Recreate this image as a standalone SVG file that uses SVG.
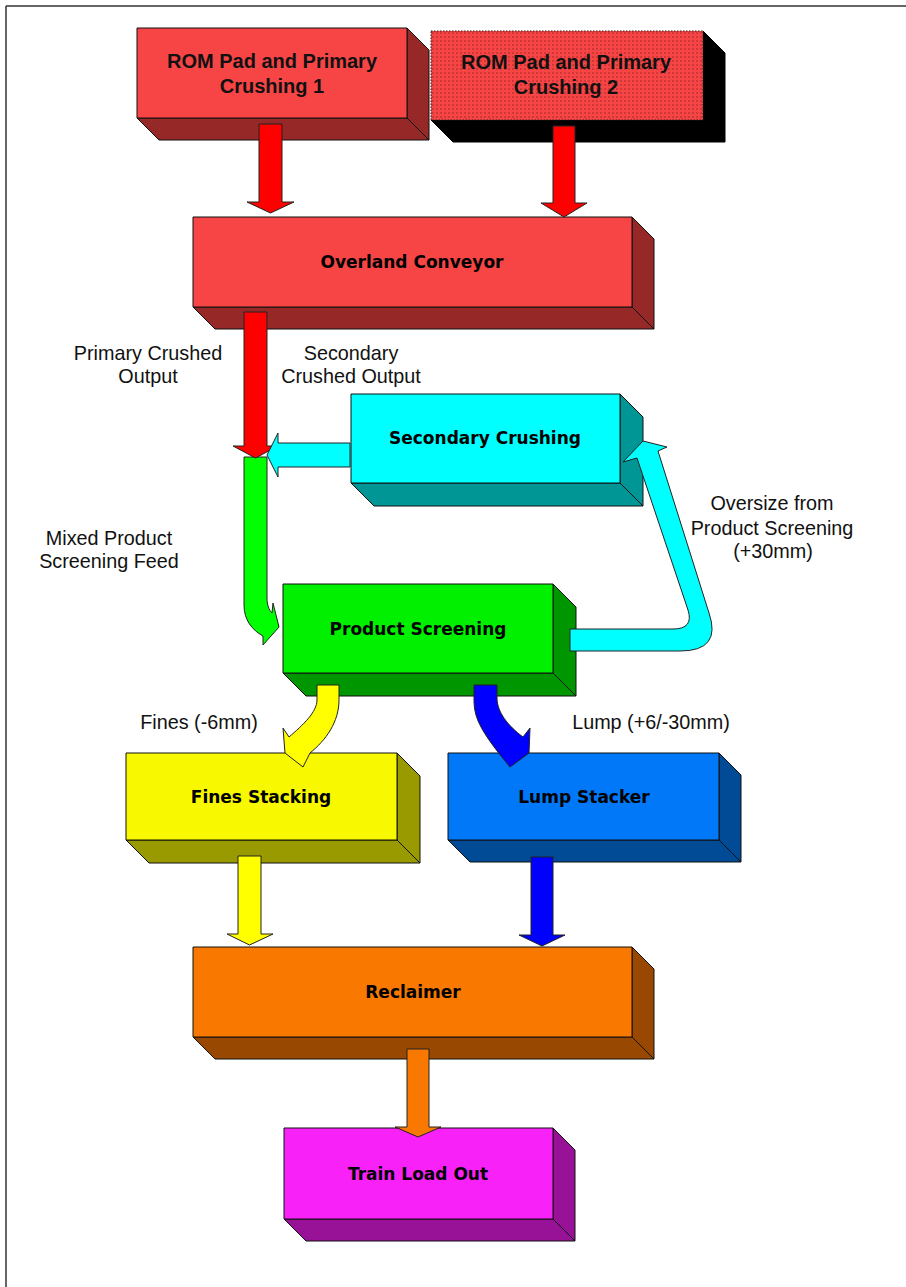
<svg xmlns="http://www.w3.org/2000/svg" width="906" height="1287" viewBox="0 0 906 1287">
<defs>
  <pattern id="dots" width="4" height="4" patternUnits="userSpaceOnUse">
    <rect width="4" height="4" fill="#F74545"/>
    <circle cx="1" cy="1" r="0.7" fill="#8a2020"/>
  </pattern>
  <style>
    .face{stroke:#111;stroke-width:1;stroke-linejoin:round}
    .arr{stroke:#222;stroke-width:1;stroke-linejoin:miter}
    .nl{font-family:"DejaVu Sans",sans-serif;font-weight:bold;font-size:17px;fill:#000;text-anchor:middle}
    .rl{font-family:"Liberation Sans",Arial,sans-serif;font-weight:bold;font-size:20px;fill:#111;text-anchor:middle}
    .el{font-family:"Liberation Sans",Arial,sans-serif;font-size:19.8px;fill:#111;text-anchor:middle}
  </style>
</defs>
<rect width="906" height="1287" fill="#fff"/>
<g id="page-border" stroke="#333" stroke-width="1.5" fill="none">
  <line x1="6" y1="6" x2="906" y2="6"/>
  <line x1="6" y1="6" x2="6" y2="1287"/>
</g>

<g id="rom1">
  <polygon class="face" fill="#962828" points="137,118 407,118 429,140 159,140"/>
  <polygon class="face" fill="#962828" points="407,28 429,50 429,140 407,118"/>
  <rect class="face" x="137" y="28" width="270" height="90" fill="#F74545"/>
  <text class="rl" x="272" y="68">ROM Pad and Primary</text>
  <text class="rl" x="272" y="93">Crushing 1</text>
</g>
<g id="rom2">
  <polygon fill="#000" stroke="#000" points="431,120 703,120 725,142 453,142"/>
  <polygon fill="#000" stroke="#000" points="703,31 725,53 725,142 703,120"/>
  <rect x="431" y="31" width="272" height="89" fill="url(#dots)" stroke="#222" stroke-width="1" stroke-dasharray="1.5 1.5"/>
  <text class="rl" x="566" y="69">ROM Pad and Primary</text>
  <text class="rl" x="566" y="94">Crushing 2</text>
</g>
<g id="overland">
  <polygon class="face" fill="#962828" points="193,307 632,307 654,329 215,329"/>
  <polygon class="face" fill="#962828" points="632,217 654,239 654,329 632,307"/>
  <rect class="face" x="193" y="217" width="439" height="90" fill="#F74545"/>
  <text class="nl" x="412" y="268">Overland Conveyor</text>
</g>
<g id="secondary">
  <polygon class="face" fill="#009696" points="351,483 620,483 643,506 374,506"/>
  <polygon class="face" fill="#009696" points="620,394 643,417 643,506 620,483"/>
  <rect class="face" x="351" y="394" width="269" height="89" fill="#00FFFF"/>
  <text class="nl" x="485" y="444">Secondary Crushing</text>
</g>
<g id="product">
  <polygon class="face" fill="#009600" points="283,673 553,673 576,696 306,696"/>
  <polygon class="face" fill="#009600" points="553,584 576,607 576,696 553,673"/>
  <rect class="face" x="283" y="584" width="270" height="89" fill="#00F000"/>
  <text class="nl" x="418" y="635">Product Screening</text>
</g>
<g id="fines">
  <polygon class="face" fill="#999900" points="126,840 397,840 420,863 149,863"/>
  <polygon class="face" fill="#999900" points="397,753 420,776 420,863 397,840"/>
  <rect class="face" x="126" y="753" width="271" height="87" fill="#F8F800"/>
  <text class="nl" x="261" y="803">Fines Stacking</text>
</g>
<g id="lump">
  <polygon class="face" fill="#004A96" points="448,840 719,840 741,862 470,862"/>
  <polygon class="face" fill="#004A96" points="719,753 741,775 741,862 719,840"/>
  <rect class="face" x="448" y="753" width="271" height="87" fill="#0078F8"/>
  <text class="nl" x="584" y="803">Lump Stacker</text>
</g>
<g id="reclaimer">
  <polygon class="face" fill="#984800" points="193,1037 632,1037 654,1059 215,1059"/>
  <polygon class="face" fill="#984800" points="632,947 654,969 654,1059 632,1037"/>
  <rect class="face" x="193" y="947" width="439" height="90" fill="#F87800"/>
  <text class="nl" x="413" y="998">Reclaimer</text>
</g>
<g id="train">
  <polygon class="face" fill="#981298" points="284,1219 553,1219 575,1241 306,1241"/>
  <polygon class="face" fill="#981298" points="553,1128 575,1150 575,1241 553,1219"/>
  <rect class="face" x="284" y="1128" width="269" height="91" fill="#F822F8"/>
  <text class="nl" x="418" y="1180">Train Load Out</text>
</g>

<g id="connectors">
  <polygon class="arr" fill="#FF0000" points="259,124 282,124 282,202 294,202 270.5,213 247,202 259,202"/>
  <polygon class="arr" fill="#FF0000" points="553,126 575,126 575,203 587,203 564,217 541,203 553,203"/>
  <path class="arr" fill="#00FF00" d="M244,457 L267,457 L267,598 C267,605 269,610 272,613 L273,603 L279,627 L263,645 L263,636 C252,630 244,620 244,605 Z"/>
  <polygon class="arr" fill="#FF0000" points="244,312 267,312 267,446 278,446 255.5,458 233,446 244,446"/>
  <polygon class="arr" fill="#00FFFF" points="350,443 278,443 278,433 267,455 278,477 278,467 350,467"/>
  <path class="arr" fill="#00FFFF" d="M570,629 L673,629 Q694,629 688,610 L637,458 L623,462 L643,441 L667,447 L658,451 L709,613 Q722,651 680,651 L570,651 Z"/>
  <path class="arr" fill="#FFFF00" d="M317,685 L339,685 L339,700 C339,722 326,740 310,753 L303,767 L285,753 L283,728 L289,737 C303,725 317,712 317,700 Z"/>
  <path class="arr" fill="#0000FF" d="M474,685 L497,685 L497,698 C497,712 508,726 523,737 L530,728 L529,753 L510,767 C496,750 480,730 476,715 C474,708 474,703 474,698 Z"/>
  <polygon class="arr" fill="#FFFF00" points="238,856 261,856 261,934 273,934 249.5,945 227,934 238,934"/>
  <polygon class="arr" fill="#0000FF" points="531,857 553,857 553,935 565,935 542,946 519,935 531,935"/>
  <polygon class="arr" fill="#F87800" points="407,1049 429,1049 429,1127 441,1127 418,1137 395,1127 407,1127"/>
</g>

<g id="edge-labels">
  <text class="el" x="148" y="360">Primary Crushed</text>
  <text class="el" x="148" y="383">Output</text>
  <text class="el" x="351" y="360">Secondary</text>
  <text class="el" x="351" y="383">Crushed Output</text>
  <text class="el" x="109" y="545">Mixed Product</text>
  <text class="el" x="109" y="568">Screening Feed</text>
  <text class="el" x="772" y="510">Oversize from</text>
  <text class="el" x="772" y="535">Product Screening</text>
  <text class="el" x="773" y="558">(+30mm)</text>
  <text class="el" x="199" y="729">Fines (-6mm)</text>
  <text class="el" x="651" y="729">Lump (+6/-30mm)</text>
</g>
</svg>
